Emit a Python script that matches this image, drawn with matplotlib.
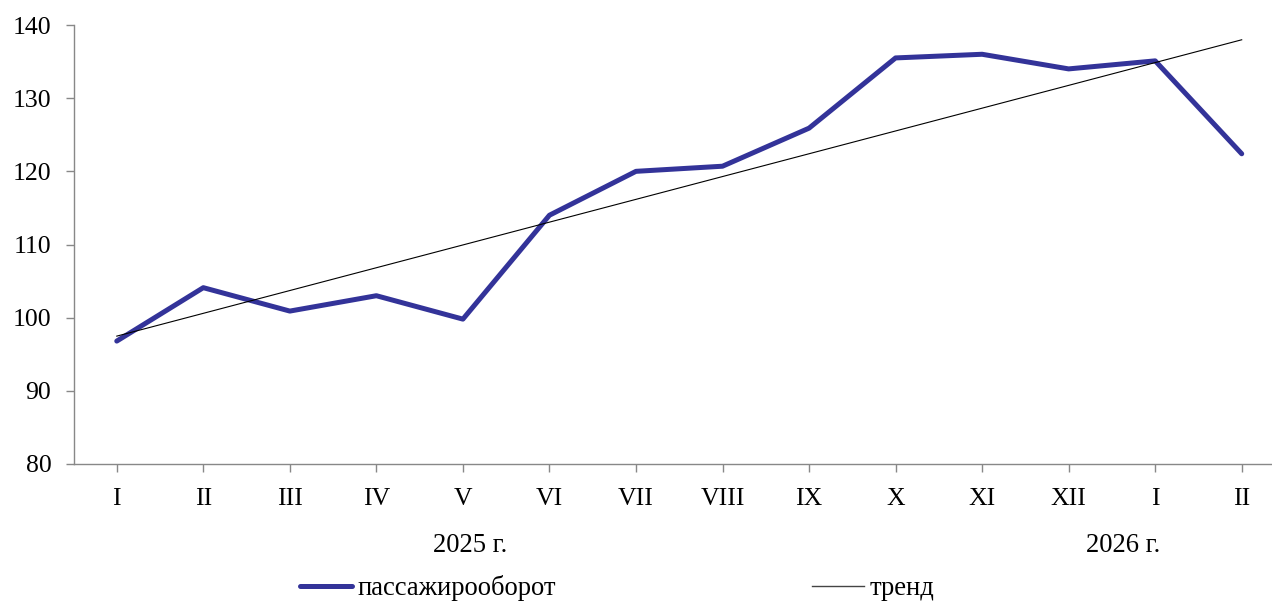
import numpy as np
import matplotlib
matplotlib.use("Agg")
import matplotlib.pyplot as plt
import matplotlib.transforms as mtransforms

months = ["I", "II", "III", "IV", "V", "VI", "VII", "VIII", "IX", "X", "XI", "XII", "I", "II"]
values = [96.8, 104.1, 100.9, 103.0, 99.8, 114.0, 120.0, 120.7, 125.9, 135.5, 136.0, 134.0, 135.1, 122.4]
years = ["2025 г.", "2026 г."]
year_pos = [4.08, 11.63]
series_name = "пассажирооборот"
trend_name = "тренд"

plt.rcParams['font.family'] = ['Liberation Serif', 'DejaVu Serif']
FS = 18.5
FS2 = 19.2

W, H = 1272, 604
fig = plt.figure(figsize=(W / 100, H / 100), dpi=100)
ax = fig.add_axes([73.5 / W, 1 - 464 / H, 1 - 73.5 / W, (464 - 25) / H])

x = np.arange(len(values))
coef = np.polyfit(x, values, 1)
trend = np.polyval(coef, x)

ax.plot(x, values, color="#333399", lw=3.6, solid_capstyle="round", solid_joinstyle="round",
        label=series_name, zorder=3)
ax.plot(x, trend, color="black", lw=0.8, label=trend_name, zorder=4)

ax.set_xlim(-0.5, 13.35)
ax.set_ylim(80, 140)
ax.set_yticks(range(80, 141, 10))
ax.set_xticks(x)
ax.set_xticklabels(months)

gray = "#888888"
for s in ["top", "right"]:
    ax.spines[s].set_visible(False)
for s in ["left", "bottom"]:
    ax.spines[s].set_color(gray)
    ax.spines[s].set_linewidth(1.0)
ax.tick_params(axis="both", colors=gray, labelcolor="black", labelsize=FS, width=1.0, length=6)
ax.tick_params(axis="x", pad=11)
ax.tick_params(axis="y", pad=10)

trans = mtransforms.blended_transform_factory(ax.transData, fig.transFigure)
for yl, xp in zip(years, year_pos):
    ax.text(xp, 1 - 545 / H, yl, transform=trans, ha="center", va="center", fontsize=FS2)

handles, labels = ax.get_legend_handles_labels()
leg = fig.legend(handles, labels, loc="center left", bbox_to_anchor=(300 / W, 1 - 588 / H),
                 ncol=2, frameon=False, fontsize=FS2, handlelength=1.95, handletextpad=0.2,
                 columnspacing=9.6, borderpad=0, borderaxespad=0)
leg.get_lines()[1].set_color("#444444")
leg.get_lines()[1].set_linewidth(1.0)

fig.savefig("out.png", dpi=100)
